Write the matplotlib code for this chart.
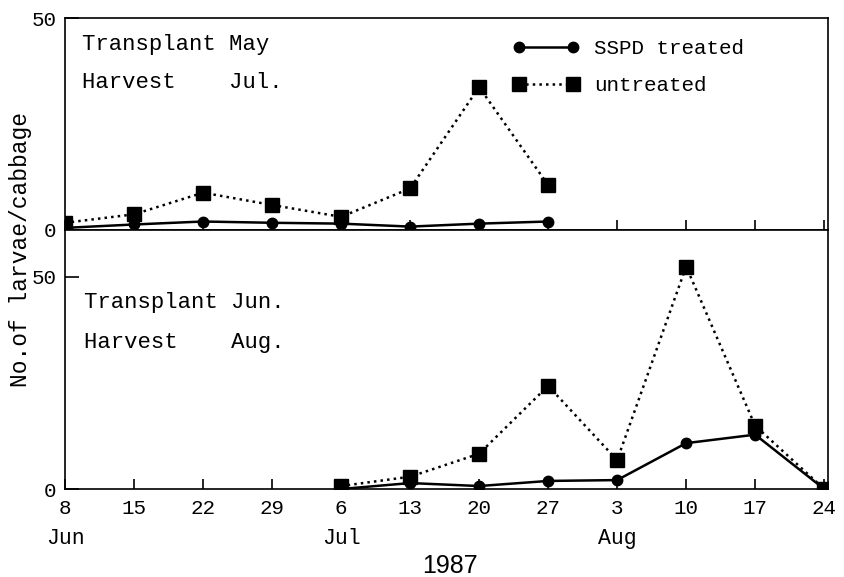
import matplotlib
matplotlib.use("Agg")
import matplotlib.pyplot as plt

# days counted from 8 Jun 1987
week_days = [0, 7, 14, 21, 28, 35, 42, 49, 56, 63, 70, 77]
week_labels = ["8", "15", "22", "29", "6", "13", "20", "27", "3", "10", "17", "24"]
month_days = [0, 28, 56]
month_names = ["Jun", "Jul", "Aug"]

# transplant May / harvest Jul
may_days = [0, 7, 14, 21, 28, 35, 42, 49]
may_treated = [0.5, 1.3, 2.0, 1.7, 1.5, 0.8, 1.5, 2.0]
may_untreated = [1.7, 3.7, 8.8, 5.9, 3.1, 9.8, 33.7, 10.6]

# transplant Jun / harvest Aug
jun_days = [28, 35, 42, 49, 56, 63, 70, 77]
jun_treated = [0.0, 1.4, 0.7, 1.9, 2.1, 10.8, 12.8, 0.0]
jun_untreated = [0.7, 2.9, 8.3, 24.3, 6.8, 52.4, 14.9, 0.0]

mono = "Liberation Mono"

fig = plt.figure(figsize=(8.45, 5.77), dpi=100)
ax1 = fig.add_axes([0.077, 0.6014, 0.903, 0.3674])
ax2 = fig.add_axes([0.077, 0.1525, 0.903, 0.4489])


def draw(ax, days, treated, untreated, ytop):
    ax.plot(days, treated, color="black", lw=1.8, marker="o", ms=7.5,
            label="SSPD treated")
    ax.plot(days, untreated, color="black", lw=1.8, ls=":", marker="s", ms=9.5,
            label="untreated")
    ax.set_xlim(0, 77.4)
    ax.set_ylim(0, ytop)
    ax.set_xticks(week_days)
    ax.set_yticks([0, 50])
    ax.tick_params(direction="in", length=7, width=1.2, pad=7,
                   labelsize=15, labelfontfamily=mono)
    ax.tick_params(axis="y", length=10, pad=6)
    for s in ax.spines.values():
        s.set_linewidth(1.2)


draw(ax1, may_days, may_treated, may_untreated, 50)
draw(ax2, jun_days, jun_treated, jun_untreated, 61)

ax1.set_xticklabels([])
ax2.set_xticklabels(week_labels)
for d, m in zip(month_days, month_names):
    ax2.text(d, -0.19, m, transform=ax2.get_xaxis_transform(),
             ha="center", va="center", fontsize=15.5, family=mono)

ax1.text(0.022, 0.875, "Transplant May", transform=ax1.transAxes,
         fontsize=16, family=mono, va="center")
ax1.text(0.022, 0.695, "Harvest    Jul.", transform=ax1.transAxes,
         fontsize=16, family=mono, va="center")
ax2.text(0.025, 0.72, "Transplant Jun.", transform=ax2.transAxes,
         fontsize=16, family=mono, va="center")
ax2.text(0.025, 0.565, "Harvest    Aug.", transform=ax2.transAxes,
         fontsize=16, family=mono, va="center")

ax1.legend(loc="upper left", bbox_to_anchor=(0.607, 0.932),
           bbox_transform=fig.transFigure, frameon=False, numpoints=2,
           handlelength=3.2, handletextpad=0.7, labelspacing=0.85,
           borderpad=0, borderaxespad=0, prop={"family": mono, "size": 15})

fig.text(0.024, 0.567, "No.of larvae/cabbage", rotation=90, ha="center",
         va="center", fontsize=16.5, family=mono)
fig.text(0.533, 0.019, "1987", ha="center", va="center", fontsize=18,
         family="Liberation Sans")

fig.savefig("out.png", dpi=100)
